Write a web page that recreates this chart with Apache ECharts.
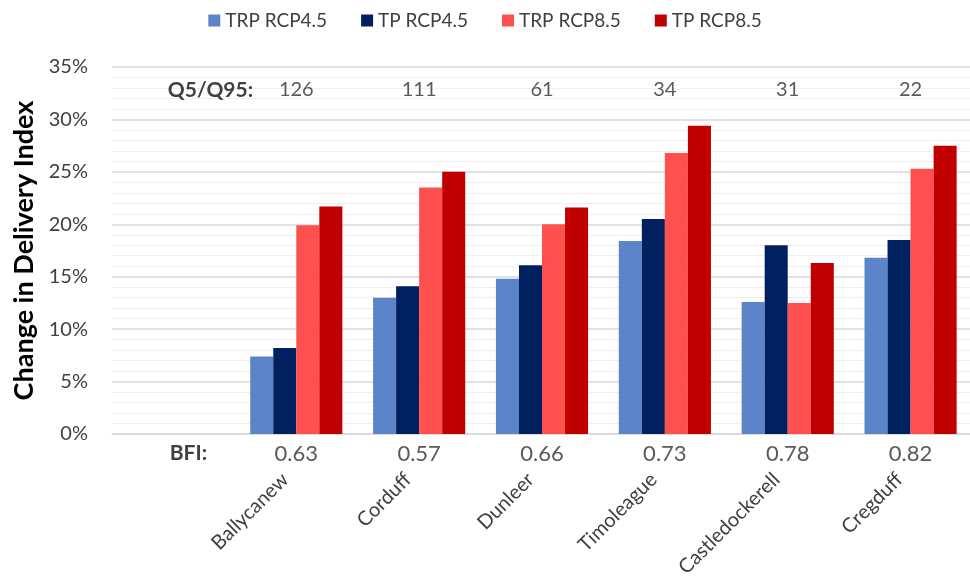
<!DOCTYPE html>
<html>
<head>
<meta charset="utf-8">
<script src="https://cdn.jsdelivr.net/npm/echarts@6/dist/echarts.min.js"></script>
<style>
html,body{margin:0;padding:0;background:#fff;}
#chart{width:970px;height:576px;}
</style>
</head>
<body>
<div id="chart"></div>
<script>
var categories = ['', 'Ballycanew', 'Corduff', 'Dunleer', 'Timoleague', 'Castledockerell', 'Cregduff'];
var bfiLabels = ['BFI:', '0.63', '0.57', '0.66', '0.73', '0.78', '0.82'];
var q5q95Labels = ['Q5/Q95:', '126', '111', '61', '34', '31', '22'];
var seriesNames = ['TRP RCP4.5', 'TP RCP4.5', 'TRP RCP8.5', 'TP RCP8.5'];
var trp45 = [null, 7.4, 13.0, 14.8, 18.4, 12.6, 16.8];
var tp45 = [null, 8.2, 14.1, 16.1, 20.5, 18.0, 18.5];
var trp85 = [null, 19.9, 23.5, 20.0, 26.8, 12.5, 25.3];
var tp85 = [null, 21.7, 25.0, 21.6, 29.4, 16.3, 27.5];
var colors = ['#5B84C9', '#002060', '#FF5050', '#C00000'];

var FONT = 'Lato';
var chart = echarts.init(document.getElementById('chart'), null, {renderer: 'canvas'});
var dataSets = [trp45, tp45, trp85, tp85];

var option = {
  animation: false,
  color: colors,
  textStyle: {fontFamily: FONT},
  legend: {
    top: 6,
    left: 'center',
    itemWidth: 12,
    itemHeight: 12,
    itemGap: 34,
    icon: 'rect',
    textStyle: {fontSize: 19, color: '#404040', fontFamily: FONT},
    data: seriesNames
  },
  grid: {left: 112, right: -2, top: 67, bottom: 142, containLabel: false, outerBoundsMode: 'none'},
  xAxis: [
    {
      type: 'category',
      position: 'bottom',
      data: categories,
      axisLine: {show: true, lineStyle: {color: '#d9d9d9', width: 1.5}},
      axisTick: {show: false},
      axisLabel: {rotate: 45, margin: 31, fontSize: 20, color: '#404040', fontFamily: FONT, interval: 0,
        padding: [0, 16, 0, 0]}
    },
    {
      type: 'category',
      position: 'bottom',
      data: bfiLabels,
      axisLine: {show: false},
      axisTick: {show: false},
      axisLabel: {
        margin: 9, fontSize: 22, color: '#595959', fontFamily: FONT, interval: 0,
        formatter: function (v, i) { return i === 0 ? '{b|' + v + '}' : v; },
        rich: {b: {fontWeight: 'bold', fontSize: 21, color: '#404040', fontFamily: FONT, padding: [0, 0, 0, 30]}}
      }
    },
    {
      type: 'category',
      position: 'top',
      data: q5q95Labels,
      axisLine: {show: false},
      axisTick: {show: false},
      axisLabel: {
        inside: true, margin: 13, fontSize: 20, color: '#595959', fontFamily: FONT, interval: 0,
        formatter: function (v, i) { return i === 0 ? '{b|' + v + '}' : v; },
        rich: {b: {fontWeight: 'bold', fontSize: 21, color: '#404040', fontFamily: FONT, padding: [0, 0, 0, 74]}}
      }
    }
  ],
  yAxis: {
    type: 'value',
    min: 0, max: 35, interval: 5,
    name: 'Change in Delivery Index',
    nameLocation: 'middle',
    nameGap: 70,
    nameTextStyle: {fontSize: 27, fontWeight: 'bold', color: '#000', fontFamily: FONT},
    axisLine: {show: false},
    axisTick: {show: false},
    axisLabel: {formatter: '{value}%', fontSize: 20, color: '#404040', fontFamily: FONT, margin: 24},
    splitLine: {lineStyle: {color: '#d9d9d9', width: 1.5}},
    minorTick: {show: false, splitNumber: 5},
    minorSplitLine: {show: true, lineStyle: {color: '#efefef', width: 1.2}}
  },
  series: seriesNames.map(function (n, k) {
    return {
      name: n,
      type: 'bar',
      xAxisIndex: 0,
      data: dataSets[k],
      barGap: '0%',
      barCategoryGap: '25%',
      itemStyle: {color: colors[k]}
    };
  })
};
chart.setOption(option);
</script>
</body>
</html>
